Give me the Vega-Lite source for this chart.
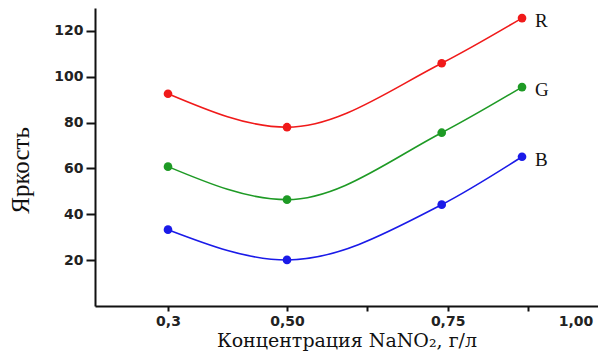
{
  "$schema": "https://vega.github.io/schema/vega-lite/v6.json",
  "width": 503,
  "height": 298,
  "autosize": {"type": "none"},
  "padding": {"left": 95, "top": 8, "right": 0, "bottom": 45},
  "background": "white",
  "config": {"view": {"stroke": null}},
  "data": {
    "values": [
      {"conc": 0.3, "brightness": 92.6, "channel": "R"},
      {"conc": 0.5, "brightness": 78.0, "channel": "R"},
      {"conc": 0.76, "brightness": 105.9, "channel": "R"},
      {"conc": 0.895, "brightness": 125.6, "channel": "R"},
      {"conc": 0.3, "brightness": 60.8, "channel": "G"},
      {"conc": 0.5, "brightness": 46.4, "channel": "G"},
      {"conc": 0.76, "brightness": 75.6, "channel": "G"},
      {"conc": 0.895, "brightness": 95.5, "channel": "G"},
      {"conc": 0.3, "brightness": 33.3, "channel": "B"},
      {"conc": 0.5, "brightness": 20.1, "channel": "B"},
      {"conc": 0.76, "brightness": 44.2, "channel": "B"},
      {"conc": 0.895, "brightness": 65.1, "channel": "B"}
    ]
  },
  "encoding": {
    "x": {
      "field": "conc",
      "type": "quantitative",
      "scale": {"domain": [0.1773, 1.0227], "nice": false, "zero": false},
      "axis": {
        "title": "Концентрация NaNO₂, г/л",
        "titleFont": "DejaVu Serif",
        "titleFontSize": 19,
        "titleFontWeight": "normal",
        "titleColor": "#111",
        "titleBaseline": "alphabetic",
        "titleY": 40,
        "values": [0.3, 0.5, 0.635, 0.77, 0.905, 0.985],
        "labelExpr": "datum.value == 0.3 ? '0,3' : datum.value == 0.5 ? '0,50' : datum.value == 0.77 ? '0,75' : datum.value == 0.985 ? '1,00' : ''",
        "labelFont": "DejaVu Sans",
        "labelFontWeight": "bold",
        "labelFontSize": 14,
        "labelColor": "#222",
        "labelPadding": 3,
        "grid": false,
        "domainColor": "#111",
        "domainWidth": 2,
        "tickColor": "#111",
        "tickWidth": 2,
        "tickSize": 5,
        "tickOpacity": {"condition": {"test": "datum.value == 0.985", "value": 0}, "value": 1}
      }
    },
    "y": {
      "field": "brightness",
      "type": "quantitative",
      "scale": {"domain": [0, 130], "nice": false},
      "axis": {
        "title": "Яркость",
        "titleFont": "Liberation Serif",
        "titleFontSize": 25,
        "titleFontWeight": "normal",
        "titleColor": "#111",
        "titlePadding": 20,
        "titleY": 162,
        "values": [20, 40, 60, 80, 100, 120],
        "labelFont": "DejaVu Sans",
        "labelFontWeight": "bold",
        "labelFontSize": 14,
        "labelColor": "#222",
        "labelPadding": 3,
        "grid": false,
        "domainColor": "#111",
        "domainWidth": 2,
        "tickColor": "#111",
        "tickWidth": 2,
        "tickSize": 9
      }
    },
    "color": {
      "field": "channel",
      "type": "nominal",
      "scale": {"domain": ["R", "G", "B"], "range": ["#f01a1a", "#1e9a25", "#1a1ae8"]},
      "legend": null
    }
  },
  "layer": [
    {
      "mark": {"type": "line", "interpolate": "monotone", "strokeWidth": 1.6}
    },
    {
      "mark": {"type": "point", "filled": true, "size": 75, "opacity": 1}
    },
    {
      "transform": [{"filter": "datum.conc > 0.85"}],
      "mark": {"type": "text", "align": "left", "baseline": "middle", "dx": 13, "dy": 3, "font": "Liberation Serif", "fontSize": 19, "color": "#111"},
      "encoding": {
        "text": {"field": "channel"},
        "color": {"value": "#111"}
      }
    }
  ]
}
